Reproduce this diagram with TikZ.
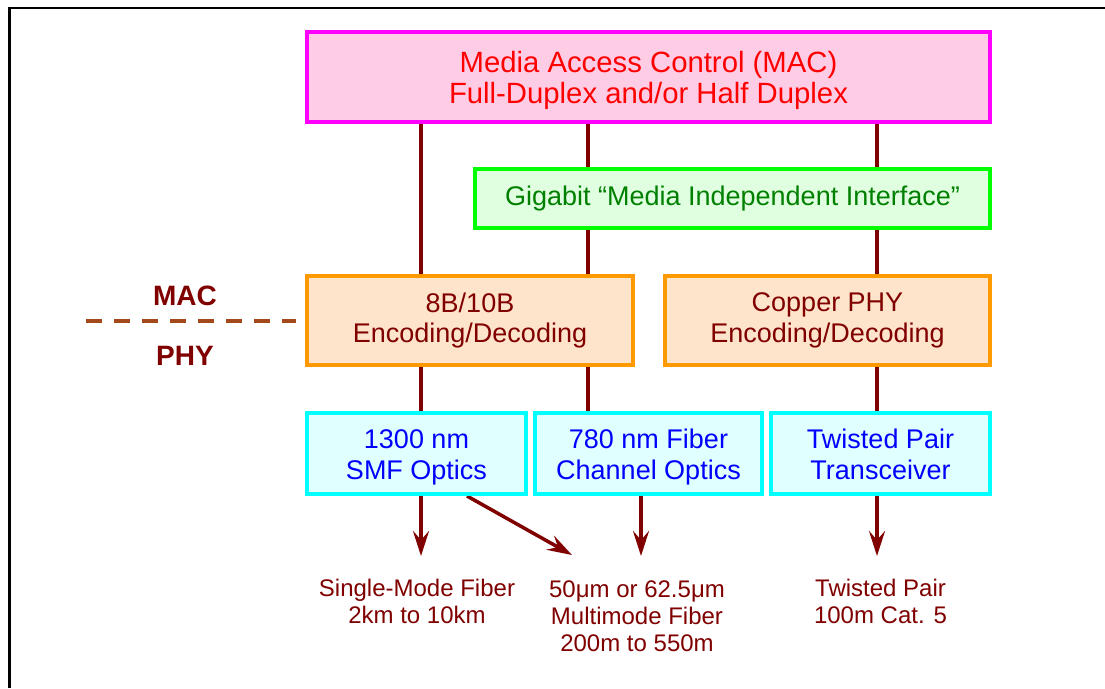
\documentclass[tikz,border=0pt]{standalone}
\usepackage{fontspec}
\setmainfont{Liberation Sans}
\usetikzlibrary{arrows.meta,backgrounds}
\definecolor{dred}{RGB}{128,0,0}
\definecolor{magb}{RGB}{255,0,255}
\definecolor{pinkf}{RGB}{255,204,230}
\definecolor{grnb}{RGB}{0,255,0}
\definecolor{grnf}{RGB}{224,255,224}
\definecolor{grnt}{RGB}{0,128,0}
\definecolor{orb}{RGB}{255,153,0}
\definecolor{orf}{RGB}{255,228,204}
\definecolor{cyb}{RGB}{0,255,255}
\definecolor{cyf}{RGB}{224,255,255}
\definecolor{dashc}{RGB}{163,73,28}
\newcommand{\lift}[1]{\rule{0pt}{#1pt}}
\newcommand{\sink}{\rule[-5.7pt]{0pt}{5.7pt}}
\begin{document}
\begin{tikzpicture}[x=1pt,y=-1pt,
  box/.style={draw, line width=4pt, inner sep=0pt, align=center, font=\fontsize{27}{30.5}\selectfont},
  macbox/.style={box, draw=magb, fill=pinkf, text=red, font=\fontsize{29.3}{31.3}\selectfont},
  gbox/.style={box, draw=grnb, fill=grnf, text=grnt},
  obox/.style={box, draw=orb, fill=orf, text=dred},
  cbox/.style={box, draw=cyb, fill=cyf, text=blue},
  lnk/.style={draw=dred, line width=3.5pt},
  arr/.style={lnk, -{Stealth[length=25pt,width=16pt,inset=9pt]}},
  lab/.style={text=dred, inner sep=0pt, align=center, font=\fontsize{24}{27}\selectfont},
  side/.style={text=dred, inner sep=0pt, font=\fontsize{28}{30}\selectfont\bfseries},
  divider/.style={draw=dashc, line width=4.5pt, dash pattern=on 15.7pt off 12.3pt}
]
\useasboundingbox (0,0) rectangle (1105,688);
\draw[line width=3pt] (9.5,688) -- (9.5,6.5);
\draw[line width=2pt] (8,7.5) -- (1105,7.5);

\node[macbox, minimum width=683pt, minimum height=90pt] (mac) at (648.5,77) {\lift{27.5}Media Access Control (MAC)\\Full-Duplex and/or Half Duplex};
\node[gbox, minimum width=515pt, minimum height=59pt] (gmii) at (732.5,198.5) {Gigabit “Media Independent Interface”};
\node[obox, minimum width=326pt, minimum height=89pt] (enc) at (470,320.5) {8B/10B\\Encoding/Decoding};
\node[obox, minimum width=325pt, minimum height=89pt] (cu) at (827.5,320.5) {Copper PHY\\Encoding/Decoding};
\node[cbox, minimum width=219pt, minimum height=81pt] (smf) at (416.5,453.5) {\lift{26.5}1300 nm\\SMF Optics};
\node[cbox, minimum width=227pt, minimum height=81pt] (fc) at (648.5,453.5) {\lift{26.5}780 nm Fiber\\Channel Optics};
\node[cbox, minimum width=219pt, minimum height=81pt] (tp) at (880.5,453.5) {\lift{26.5}Twisted Pair\\Transceiver\sink};

\node[side, anchor=base] (maclab) at (185,305) {MAC};
\node[side, anchor=base] (phylab) at (185,365) {PHY};

\node[lab, anchor=north] (l1) at (417,578.5) {Single-Mode Fiber\\2km to 10km};
\node[lab, anchor=north] (l2) at (637,580.5) {50μm or 62.5μm\\Multimode Fiber\\200m to 550m};
\node[lab, anchor=north] (l3) at (880.5,578.8) {Twisted Pair\\100m Cat. 5};

\coordinate (xa) at (421,0);
\coordinate (xb) at (588,0);
\coordinate (xc) at (877,0);
\coordinate (xd) at (641,0);
\coordinate (xe) at (467,0);
\coordinate (t1) at (421,556);
\coordinate (t2) at (572,555);
\coordinate (t3) at (641,556);
\coordinate (t4) at (877,556);
\coordinate (dl) at (86,321);

\draw[divider] (dl) -- (dl -| enc.west) [shorten >=9pt];

\begin{pgfonlayer}{background}
\fill[white] (0,0) rectangle (1105,688);
\draw[lnk] (mac.south -| xa) -- (enc.north -| xa);
\draw[lnk] (enc.south -| xa) -- (smf.north -| xa);
\draw[lnk] (mac.south -| xb) -- (gmii.north -| xb);
\draw[lnk] (gmii.south -| xb) -- (enc.north -| xb);
\draw[lnk] (enc.south -| xb) -- (fc.north -| xb);
\draw[lnk] (mac.south -| xc) -- (gmii.north -| xc);
\draw[lnk] (gmii.south -| xc) -- (cu.north -| xc);
\draw[lnk] (cu.south -| xc) -- (tp.north -| xc);
\draw[arr] (smf.south -| xa) -- (t1);
\draw[arr] (smf.south -| xe) -- (t2);
\draw[arr] (fc.south -| xd) -- (t3);
\draw[arr] (tp.south -| xc) -- (t4);
\end{pgfonlayer}
\end{tikzpicture}
\end{document}
